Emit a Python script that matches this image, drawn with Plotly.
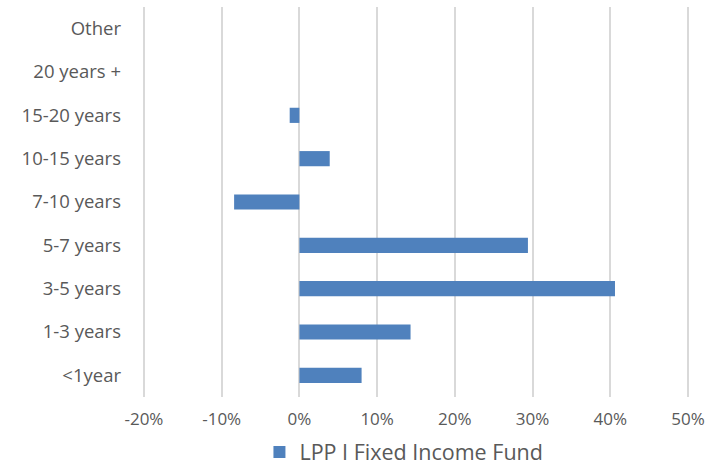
import plotly.graph_objects as go

categories = ["<1year", "1-3 years", "3-5 years", "5-7 years", "7-10 years",
              "10-15 years", "15-20 years", "20 years +", "Other"]
values = [0.080, 0.143, 0.406, 0.294, -0.084, 0.039, -0.0125, 0.0, 0.0]
series_name = "LPP I Fixed Income Fund"
tick_vals = [-0.2, -0.1, 0, 0.1, 0.2, 0.3, 0.4, 0.5]
tick_text = ["-20%", "-10%", "0%", "10%", "20%", "30%", "40%", "50%"]

FONT = "Open Sans, Lato, Liberation Sans, sans-serif"

fig = go.Figure()
fig.add_trace(go.Bar(
    y=categories, x=values, orientation="h", name=series_name,
    marker=dict(color="#4f81bd", line=dict(color="#4f81bd", width=0)),
    width=0.35, showlegend=True,
))

fig.update_layout(
    width=708, height=467,
    margin=dict(l=142, r=18, t=7, b=70, autoexpand=False),
    paper_bgcolor="white", plot_bgcolor="white",
    font=dict(family=FONT, color="#595959", size=17),
    xaxis=dict(range=[-0.2025, 0.5025], tickvals=tick_vals, ticktext=tick_text,
               showgrid=True, gridcolor="#d9d9d9", gridwidth=2,
               zeroline=False, showline=False, ticks="", ticklabelstandoff=10,
               automargin=False,
               tickfont=dict(family=FONT, size=17, color="#595959")),
    yaxis=dict(categoryorder="array", categoryarray=categories,
               showgrid=False, zeroline=False, showline=False, ticks="",
               automargin=False,
               ticklabelstandoff=20, tickfont=dict(family=FONT, size=18.5, color="#595959")),
    legend=dict(orientation="h", x=0.478, xanchor="center", y=-0.141, yanchor="middle",
                font=dict(family=FONT, size=21.5, color="#595959")),
    bargap=0.65,
)

fig.write_html("out.html", config={"displayModeBar": False},
               post_script="document.body.style.margin='0';")
